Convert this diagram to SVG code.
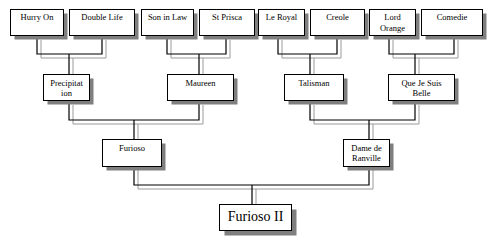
<svg xmlns="http://www.w3.org/2000/svg" width="500" height="251" viewBox="0 0 500 251">
<style>
.bx{fill:#fff;stroke:#000;stroke-width:1}
.sh{fill:#7f7f7f}
.dk{fill:none;stroke:#000;stroke-width:1.2}
.gr{fill:none;stroke:#9a9a9a;stroke-width:1}
text{font-family:"Liberation Serif","Times New Roman",serif;font-size:8.5px;fill:#000;text-anchor:middle}
.big{font-size:14px}
</style>
<rect width="500" height="251" fill="#fff"/>
<g id="connectors">
<path class="gr" d="M41 40V58H106V40M73 58V74M171 40V58H230V40M203 58V74M282 40V58H341V40M314 58V74M393 40V58H458V40M419 58V74"/>
<path class="dk" d="M37 35V54H102V35M69 54V74M167 35V54H226V35M199 54V74M278 35V54H337V35M310 54V74M389 35V54H454V35M415 54V74"/>
<path class="gr" d="M73 105V124H203V105M138 124V139M314 105V124H419V105M373 124V139"/>
<path class="dk" d="M69 100V120H199V101M134 120V139M310 101V120H415V101M369 120V139"/>
<path class="gr" d="M138 170V189H373V170M256 189V204"/>
<path class="dk" d="M134 166V185H369V166M252 185V204"/>
</g>
<g id="hurry-on"><rect class="sh" x="14.5" y="13.5" width="53" height="26"/><rect class="bx" x="10.5" y="9.5" width="53" height="26"/><text x="37" y="20">Hurry On</text></g>
<g id="double-life"><rect class="sh" x="73.5" y="13.5" width="65" height="26"/><rect class="bx" x="69.5" y="9.5" width="65" height="26"/><text x="102" y="20">Double Life</text></g>
<g id="son-in-law"><rect class="sh" x="145.5" y="13.5" width="52" height="26"/><rect class="bx" x="141.5" y="9.5" width="52" height="26"/><text x="167.5" y="20">Son in Law</text></g>
<g id="st-prisca"><rect class="sh" x="203.5" y="13.5" width="55" height="26"/><rect class="bx" x="199.5" y="9.5" width="55" height="26"/><text x="227" y="20">St Prisca</text></g>
<g id="le-royal"><rect class="sh" x="262.5" y="13.5" width="46" height="26"/><rect class="bx" x="258.5" y="9.5" width="46" height="26"/><text x="281.5" y="20">Le Royal</text></g>
<g id="creole"><rect class="sh" x="314.5" y="13.5" width="54" height="26"/><rect class="bx" x="310.5" y="9.5" width="54" height="26"/><text x="337.5" y="20">Creole</text></g>
<g id="lord-orange"><rect class="sh" x="373.5" y="13.5" width="46" height="26"/><rect class="bx" x="369.5" y="9.5" width="46" height="26"/><text x="392.5" y="20">Lord</text><text x="392.5" y="31">Orange</text></g>
<g id="comedie"><rect class="sh" x="425.5" y="13.5" width="61" height="26"/><rect class="bx" x="421.5" y="9.5" width="61" height="26"/><text x="452" y="20">Comedie</text></g>
<g id="precipitation"><rect class="sh" x="47.5" y="78.5" width="46" height="26"/><rect class="bx" x="43.5" y="74.5" width="46" height="26"/><text x="66.5" y="86">Precipitat</text><text x="66.5" y="96">ion</text></g>
<g id="maureen"><rect class="sh" x="171.5" y="78.5" width="66" height="26"/><rect class="bx" x="167.5" y="74.5" width="66" height="26"/><text x="200.5" y="86">Maureen</text></g>
<g id="talisman"><rect class="sh" x="288.5" y="78.5" width="59" height="26"/><rect class="bx" x="284.5" y="74.5" width="59" height="26"/><text x="314" y="86">Talisman</text></g>
<g id="que-je-suis-belle"><rect class="sh" x="392.5" y="78.5" width="66" height="26"/><rect class="bx" x="388.5" y="74.5" width="66" height="26"/><text x="421.5" y="86">Que Je Suis</text><text x="421.5" y="96">Belle</text></g>
<g id="furioso"><rect class="sh" x="106.5" y="143.5" width="59" height="27"/><rect class="bx" x="102.5" y="139.5" width="59" height="27"/><text x="132" y="151">Furioso</text></g>
<g id="dame-de-ranville"><rect class="sh" x="347.5" y="143.5" width="46" height="27"/><rect class="bx" x="343.5" y="139.5" width="46" height="27"/><text x="366.5" y="151">Dame de</text><text x="366.5" y="161">Ranville</text></g>
<g id="furioso-ii"><rect class="sh" x="224.5" y="209.5" width="72" height="26"/><rect class="bx" x="219.5" y="204.5" width="72" height="26"/><text class="big" x="255.5" y="221">Furioso II</text></g>
</svg>
